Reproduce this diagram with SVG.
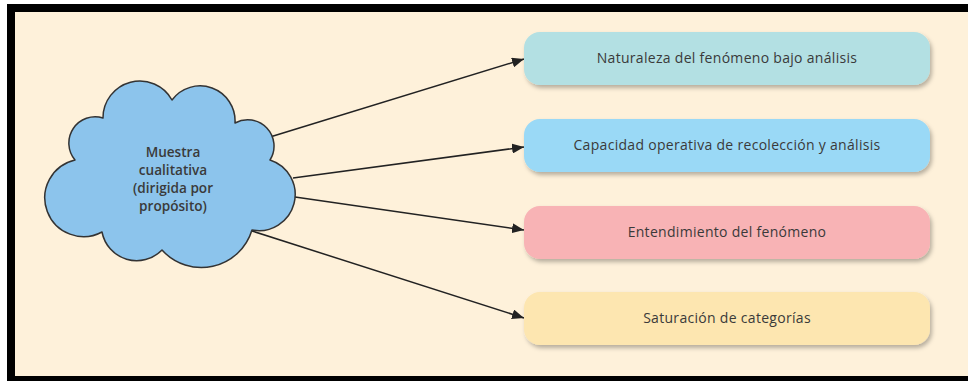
<svg xmlns="http://www.w3.org/2000/svg" width="968" height="381" viewBox="0 0 968 381">
<defs>
<style>
.box{stroke:none;filter:url(#sh)}
.lbl{font-family:"Open Sans","Liberation Sans",sans-serif;font-size:14px;letter-spacing:0.3px;fill:#3a3a3a;text-anchor:middle}
.cl{font-family:"Open Sans","Liberation Sans",sans-serif;font-size:13.6px;font-weight:600;fill:#3a3a3a;text-anchor:middle}
.con{stroke:#222;stroke-width:1.5;fill:none;marker-end:url(#ah)}
</style>
<filter id="sh" x="-10%" y="-30%" width="120%" height="170%">
<feDropShadow dx="2" dy="3" stdDeviation="2" flood-color="#000" flood-opacity="0.28"/>
</filter>
<marker id="ah" markerWidth="12" markerHeight="10" refX="12" refY="5" orient="auto" markerUnits="userSpaceOnUse">
<path d="M0,0 L12,5 L0,10 Z" fill="#222"/>
</marker>
</defs>
<rect x="0" y="0" width="968" height="381" fill="#fff"/>
<rect x="7" y="4" width="970" height="385" fill="#000"/>
<rect x="15" y="12" width="960" height="364" fill="#fef1da"/>

<g id="connectors">
<line class="con" x1="270" y1="137" x2="524" y2="59"/>
<line class="con" x1="293" y1="178" x2="524" y2="147"/>
<line class="con" x1="295" y1="197" x2="524" y2="230"/>
<line class="con" x1="252" y1="231" x2="524" y2="318"/>
</g>

<g id="cloud">
<path d="M75,160 A26.3,26.3 0 0 1 103,118 A36.8,36.8 0 0 1 172,100 A35,35 0 0 1 235,123 A26.3,26.3 0 0 1 270,160 A36.2,36.2 0 0 1 252,230 A52.9,52.9 0 0 1 162,250 A35.3,35.3 0 0 1 102,232 A38.8,38.8 0 1 1 75,160 Z" fill="#8cc4ec" stroke="#333" stroke-width="1.5" stroke-linejoin="round"/>
<text class="cl" x="173" y="157">Muestra</text>
<text class="cl" x="173" y="175">cualitativa</text>
<text class="cl" x="173" y="193">(dirigida por</text>
<text class="cl" x="173" y="211">propósito)</text>
</g>

<g id="n1">
<rect class="box" x="524" y="32" width="406" height="53" rx="16" fill="#b3e0e3"/>
<text class="lbl" x="727" y="63">Naturaleza del fenómeno bajo análisis</text>
</g>
<g id="n2">
<rect class="box" x="524" y="119" width="406" height="53" rx="16" fill="#9ad9f6"/>
<text class="lbl" x="727" y="150">Capacidad operativa de recolección y análisis</text>
</g>
<g id="n3">
<rect class="box" x="524" y="206" width="406" height="53" rx="16" fill="#f8b3b5"/>
<text class="lbl" x="727" y="237">Entendimiento del fenómeno</text>
</g>
<g id="n4">
<rect class="box" x="524" y="292" width="406" height="53" rx="16" fill="#fde6b0"/>
<text class="lbl" x="727" y="323">Saturación de categorías</text>
</g>
</svg>
